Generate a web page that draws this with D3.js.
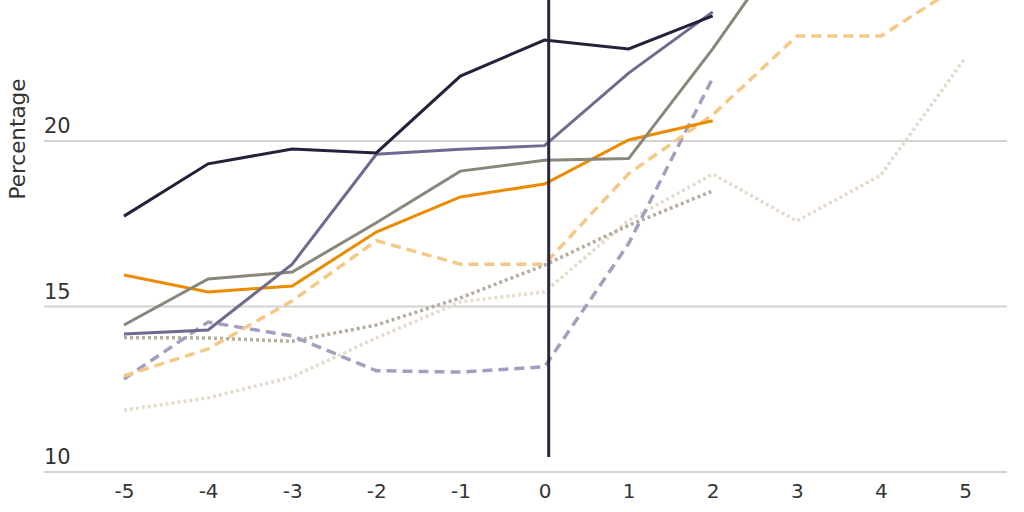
<!DOCTYPE html>
<html>
<head>
<meta charset="utf-8">
<script src="https://cdn.jsdelivr.net/npm/d3@7"></script>
<style>
  html, body { margin: 0; padding: 0; background: #fff; }
  svg { display: block; }
</style>
</head>
<body>
<svg id="chart" width="1024" height="512"></svg>
<script>
// ---- data ----
const years = [-5, -4, -3, -2, -1, 0, 1, 2, 3, 4, 5];
const yTicks = [10, 15, 20];
const xTickLabels = ["-5", "-4", "-3", "-2", "-1", "0", "1", "2", "3", "4", "5"];

const seriesNavy        = [17.73, 19.31, 19.76, 19.64, 21.96, 23.05, 22.78, 23.78];
const seriesPurple      = [14.17, 14.29, 16.28, 19.60, 19.75, 19.86, 22.05, 23.90];
const seriesGray        = [14.44, 15.83, 16.04, 17.53, 19.09, 19.42, 19.47, 22.78, 26.40];
const seriesOrange      = [15.95, 15.44, 15.62, 17.25, 18.31, 18.70, 20.03, 20.61];
const seriesOrangeDash  = [12.90, 13.72, 15.17, 16.99, 16.28, 16.28, 19.01, 20.79, 23.17, 23.17, 24.80];
const seriesPurpleDash  = [12.81, 14.53, 14.11, 13.06, 13.02, 13.18, 16.90, 21.90];
const seriesGrayDot     = [14.06, 14.05, 13.95, 14.44, 15.26, 16.25, 17.45, 18.49];
const seriesBeigeDot    = [11.87, 12.24, 12.87, 14.05, 15.14, 15.44, 17.60, 19.00, 17.58, 18.97, 22.50];

const eventX = 0.05, eventY0 = 10.45, eventY1 = 25;

const series = [
  { values: seriesBeigeDot,   color: "#e6dacb", dash: "3,3" },
  { values: seriesGrayDot,    color: "#b7ad9f", dash: "3,3" },
  { values: seriesPurpleDash, color: "#a3a0bf", dash: "10,6" },
  { values: seriesOrangeDash, color: "#f6c888", dash: "10,6" },
  { values: seriesOrange,     color: "#ec8b00", dash: null },
  { values: seriesGray,       color: "#8b867b", dash: null },
  { values: seriesPurple,     color: "#6f6a8e", dash: null },
  { values: seriesNavy,       color: "#25213b", dash: null }
];

// ---- chart ----
const svg = d3.select("#chart");
const x = d3.scaleLinear().domain([-5, 5]).range([124, 965]);
const y = d3.scaleLinear().domain([10, 20]).range([472, 141]);
const gridX0 = 44, gridX1 = 1007;
const font = "'DejaVu Sans', sans-serif";

// gridlines
svg.append("g").selectAll("line").data(yTicks).join("line")
  .attr("x1", gridX0).attr("x2", gridX1)
  .attr("y1", d => y(d)).attr("y2", d => y(d))
  .attr("stroke", "#d2d2d2").attr("stroke-width", 2);

// y tick labels
svg.append("g").selectAll("text").data(yTicks).join("text")
  .attr("x", gridX0).attr("y", d => y(d) - 8)
  .attr("font-family", font).attr("font-size", 21).attr("fill", "#333")
  .text(d => d);

// y axis title
svg.append("text")
  .attr("transform", "translate(25,139) rotate(-90)")
  .attr("text-anchor", "middle")
  .attr("font-family", font).attr("font-size", 21.5).attr("fill", "#333")
  .text("Percentage");

// x axis labels via d3 axis
const xAxis = d3.axisBottom(x).tickValues(years).tickFormat((d, i) => xTickLabels[i]).tickSize(0).tickPadding(0);
const gx = svg.append("g").attr("transform", "translate(0,484)").call(xAxis);
gx.select(".domain").remove();
gx.selectAll("text")
  .attr("font-family", font).attr("font-size", 20).attr("fill", "#333")
  .attr("dy", "0.71em");

// lines
const line = d3.line().x((d, i) => x(years[i])).y(d => y(d));
svg.append("g").selectAll("path").data(series).join("path")
  .attr("d", d => line(d.values))
  .attr("fill", "none")
  .attr("stroke", d => d.color)
  .attr("stroke-width", d => d.dash ? 3.5 : 3)
  .attr("stroke-dasharray", d => d.dash)
  .attr("stroke-linejoin", "miter");

// event line
svg.append("line")
  .attr("x1", x(eventX)).attr("x2", x(eventX))
  .attr("y1", y(eventY0)).attr("y2", y(eventY1))
  .attr("stroke", "#2a2640").attr("stroke-width", 3);
</script>
</body>
</html>
